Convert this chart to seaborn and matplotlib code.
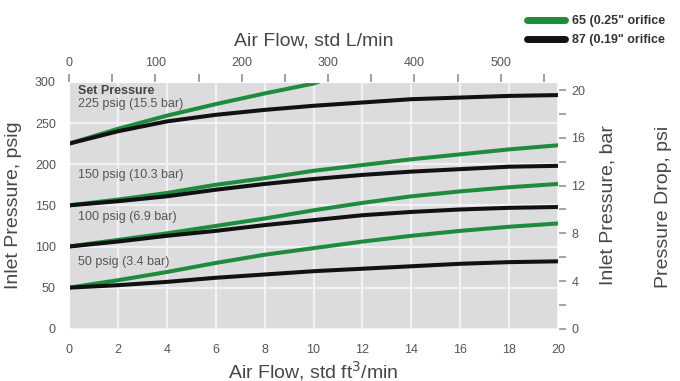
import matplotlib
matplotlib.use("Agg")
import matplotlib.pyplot as plt
from matplotlib.ticker import MultipleLocator
import seaborn as sns
import pandas as pd

# flow in std ft3/min
flow = [0, 2, 4, 6, 8, 10, 12, 14, 16, 18, 20]
flow_short = [0, 2, 4, 6, 8, 10, 10.2]

# inlet pressure (psig), per set pressure
green_225 = [225, 243, 259, 273, 286, 298, 300]
black_225 = [225, 240, 252, 260, 266, 271, 275, 279, 281, 283, 284]
green_150 = [150, 157, 165, 175, 183, 192, 199, 206, 212, 218, 223]
black_150 = [150, 155, 161, 169, 176, 182, 187, 191, 194, 197, 198]
green_100 = [100, 108, 116, 125, 134, 144, 153, 161, 167, 172, 176]
black_100 = [100, 106, 113, 119, 126, 132, 138, 142, 145, 147, 148]
green_50 = [50, 59, 69, 80, 90, 98, 106, 113, 119, 124, 128]
black_50 = [50, 53, 57, 62, 66, 70, 73, 76, 79, 81, 82]

orifices = ['65 (0.25" orifice', '87 (0.19" orifice']
set_labels = ["225 psig (15.5 bar)", "150 psig (10.3 bar)",
              "100 psig (6.9 bar)", "50 psig (3.4 bar)"]
label_y = [273, 187, 136, 81]

curves = [
    (orifices[0], "225", flow_short, green_225),
    (orifices[1], "225", flow, black_225),
    (orifices[0], "150", flow, green_150),
    (orifices[1], "150", flow, black_150),
    (orifices[0], "100", flow, green_100),
    (orifices[1], "100", flow, black_100),
    (orifices[0], "50", flow, green_50),
    (orifices[1], "50", flow, black_50),
]
rows = []
for orifice, setp, xs, ys in curves:
    for x, y in zip(xs, ys):
        rows.append({"orifice": orifice, "set": orifice + setp, "cfm": x, "psig": y})
df = pd.DataFrame(rows)

sns.set_style("darkgrid", {"axes.facecolor": "#dcdcde", "grid.color": "#f2f2f2"})
plt.rcParams["font.family"] = ["Liberation Sans", "DejaVu Sans"]

fig, ax = plt.subplots(figsize=(6.8, 3.81), dpi=100)
fig.subplots_adjust(left=0.1015, right=0.8206, bottom=0.137, top=0.785)

sns.lineplot(data=df, x="cfm", y="psig", hue="orifice", units="set",
             estimator=None, sort=False,
             palette=["#1e8c3c", "#111111"], linewidth=2.9, ax=ax)

ax.set_xlim(0, 20)
ax.set_ylim(0, 300)
ax.xaxis.set_major_locator(MultipleLocator(2))
ax.xaxis.set_minor_locator(MultipleLocator(1))
ax.yaxis.set_major_locator(MultipleLocator(50))
ax.yaxis.set_minor_locator(MultipleLocator(25))
ax.grid(True, which="major", linewidth=1.6)

title_kw = dict(fontsize=14, color="#474747")
tick_kw = dict(which="both", length=6, width=1.3, color="#9a9a9a",
               labelsize=9, labelcolor="#555555", direction="out")
ax.tick_params(axis="both", **tick_kw)
ax.tick_params(axis="x", pad=5)
ax.set_xlabel("Air Flow, std ft$^3$/min", labelpad=2, **title_kw)
ax.set_ylabel("Inlet Pressure, psig", labelpad=9, **title_kw)

top = ax.secondary_xaxis("top", functions=(lambda c: c * 28.317, lambda l: l / 28.317))
top.xaxis.set_major_locator(MultipleLocator(100))
top.xaxis.set_minor_locator(MultipleLocator(50))
top.tick_params(**tick_kw)
top.set_xlabel("Air Flow, std L/min", labelpad=8, **title_kw)

right = ax.secondary_yaxis("right", functions=(lambda p: p / 14.5038, lambda b: b * 14.5038))
right.yaxis.set_major_locator(MultipleLocator(4))
right.yaxis.set_minor_locator(MultipleLocator(2))
right.tick_params(**tick_kw)
right.set_ylabel("Inlet Pressure, bar", labelpad=10, **title_kw)
for sec in (top, right):
    for sp in sec.spines.values():
        sp.set_visible(False)

fig.text(663 / 680, 1 - 207 / 381, "Pressure Drop, psi", rotation=90,
         ha="center", va="center", **title_kw)

ax.text(0.37, 289, "Set Pressure", fontsize=9, fontweight="bold",
        color="#444444", va="center")
for lab, yv in zip(set_labels, label_y):
    ax.text(0.37, yv, lab, fontsize=9, color="#555555", va="center")

sns.move_legend(ax, loc="upper left", bbox_to_anchor=(516 / 680, 1 - 4 / 381),
                bbox_transform=fig.transFigure, frameon=False, title=None,
                fontsize=9, handlelength=3.0, handletextpad=0.6, labelspacing=0.55)
for t in ax.get_legend().get_texts():
    t.set_fontweight("bold")
    t.set_color("#333333")
for h in ax.get_legend().legend_handles:
    h.set_linewidth(5)

fig.savefig("out.png", dpi=100)
